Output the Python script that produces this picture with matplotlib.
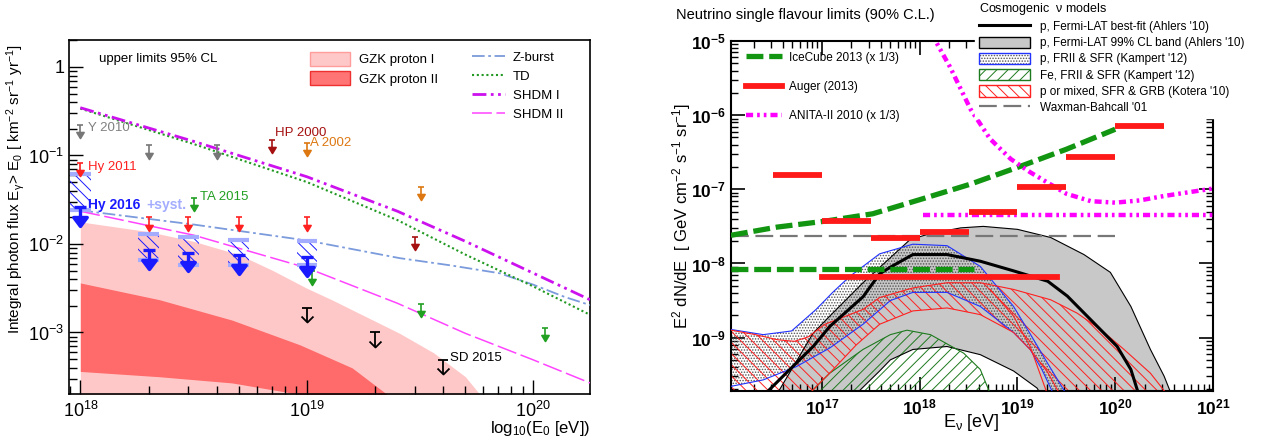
import numpy as np
import matplotlib.pyplot as plt
from matplotlib.patches import Patch
from matplotlib.lines import Line2D
from matplotlib.path import Path
from matplotlib.ticker import FixedLocator, NullFormatter, LogLocator

plt.rcParams['font.family'] = ['Liberation Sans', 'DejaVu Sans']
plt.rcParams['mathtext.fontset'] = 'custom'
plt.rcParams['mathtext.rm'] = 'Liberation Sans'
plt.rcParams['mathtext.it'] = 'Liberation Sans:italic'
plt.rcParams['mathtext.bf'] = 'Liberation Sans:bold'
plt.rcParams['mathtext.default'] = 'regular'
plt.rcParams['hatch.linewidth'] = 0.7

# =========================
# Left panel: photon limits (log10 values)
# =========================
gzk1_logE = [18.0, 18.3, 18.5, 18.7, 18.85, 19.0, 19.11, 19.26, 19.41, 19.56, 19.70, 19.78]
gzk1_hi = [-1.75, -1.86, -1.97, -2.12, -2.30, -2.50, -2.63, -2.82, -3.01, -3.23, -3.50, -3.75]
gzk2_logE = [18.0, 18.35, 18.67, 18.97, 19.2, 19.38]
gzk2_hi = [-2.44, -2.63, -2.86, -3.14, -3.40, -3.75]
gzk2_lo = [-3.44, -3.50, -3.57, -3.70, -3.80, -3.85]

zb_logE = [18.0, 18.5, 19.0, 19.41, 19.63, 19.85, 20.0, 20.14, 20.25]
zb_logF = [-1.62, -1.78, -1.96, -2.16, -2.24, -2.33, -2.46, -2.60, -2.69]
td_logE = [18.0, 18.5, 19.0, 19.4, 19.7, 20.0, 20.25]
td_logF = [-0.47, -0.87, -1.30, -1.73, -2.12, -2.48, -2.80]
shdm1_logE = [18.0, 18.5, 19.0, 19.4, 19.7, 20.0, 20.25]
shdm1_logF = [-0.46, -0.84, -1.24, -1.63, -1.97, -2.33, -2.63]
shdm2_logE = [18.0, 18.5, 19.0, 19.4, 19.7, 20.0, 20.25]
shdm2_logF = [-1.63, -1.90, -2.27, -2.67, -3.01, -3.31, -3.57]

y2010_E = [1e18, 2e18, 4e18]
y2010_F = [0.22, 0.13, 0.13]
hy2011_E = [1e18, 2e18, 3e18, 5e18, 1e19]
hy2011_F = [0.082, 0.020, 0.020, 0.020, 0.020]
hp2000_E = [7e18, 3e19]
hp2000_F = [0.15, 0.012]
a2002_E = [1e19, 3.2e19]
a2002_F = [0.14, 0.044]
ta2015_E = [3.16e18, 1.05e19, 3.2e19, 1.12e20]
ta2015_F = [0.033, 0.0049, 0.0021, 0.00112]
sd2015_E = [1e19, 2e19, 4e19]
sd2015_F = [0.0019, 0.0010, 0.00049]
hy2016_E = [1e18, 2e18, 3e18, 5e18, 1e19]
hy2016_F = [0.026, 0.0085, 0.0080, 0.0075, 0.0071]
hy2016_syst_hi = [0.062, 0.013, 0.012, 0.011, 0.0107]
hy2016_syst_lo = [0.024, 0.0066, 0.0058, 0.0058, 0.0058]

left_yticks = [1, 0.1, 0.01, 0.001]
left_ylabels = ['1', '$10^{-1}$', '$10^{-2}$', '$10^{-3}$']
left_xticks = [1e18, 1e19, 1e20]
left_xlabels = ['$10^{18}$', '$10^{19}$', '$10^{20}$']

# =========================
# Right panel: neutrino limits (log10 values)
# =========================
ice_logE = [16.07, 16.54, 17.03, 17.52, 18.0, 18.52, 19.03, 19.5, 20.0]
ice_logF = [-7.62, -7.51, -7.43, -7.33, -7.14, -6.93, -6.69, -6.46, -6.19]
ice_int_logE = [16.07, 18.56]
ice_int_logF = [-8.08, -8.08]

auger_lo = [16.5, 17.0, 17.5, 18.0, 18.5, 19.0, 19.5, 20.0]
auger_hi = [17.0, 17.5, 18.0, 18.5, 19.0, 19.5, 20.0, 20.5]
auger_logF = [-6.81, -7.43, -7.65, -7.57, -7.31, -6.97, -6.57, -6.14]
auger_int_logE = [17.0, 19.4]
auger_int_logF = [-8.18, -8.18]

anita_logE = [18.12, 18.31, 18.52, 18.72, 18.93, 19.13, 19.5, 19.75, 20.0, 20.25, 20.5, 21.0]
anita_logF = [-4.9, -5.35, -5.92, -6.32, -6.59, -6.77, -7.06, -7.16, -7.18, -7.15, -7.09, -6.99]
anita_int_logE = [18.03, 21.0]
anita_int_logF = [-7.34, -7.34]

wb_logE = [16.07, 20.0]
wb_logF = [-7.63, -7.63]

fermi_up_logE = [16.50, 16.91, 17.08, 17.42, 17.66, 17.90, 18.10, 18.42, 18.65, 19.0, 19.34, 19.68, 19.95, 20.16, 20.36, 20.50, 20.60]
fermi_up_logF = [-9.85, -8.94, -8.71, -8.26, -7.97, -7.68, -7.60, -7.52, -7.50, -7.54, -7.65, -7.88, -8.12, -8.58, -9.16, -9.52, -9.85]
fermi_lo_logE = [17.28, 17.59, 17.70, 17.93, 18.28, 18.62, 18.96, 19.2, 19.28]
fermi_lo_logF = [-9.85, -9.45, -9.30, -9.16, -9.12, -9.23, -9.45, -9.68, -9.85]
fermi_bf_logE = [16.35, 16.74, 16.91, 17.08, 17.42, 17.59, 17.70, 17.93, 18.28, 18.62, 18.96, 19.31, 19.51, 19.75, 20.02, 20.16, 20.26]
fermi_bf_logF = [-9.85, -9.34, -9.12, -8.85, -8.45, -8.14, -8.05, -7.88, -7.88, -7.97, -8.10, -8.24, -8.44, -8.76, -9.12, -9.43, -9.85]

kp_up_logE = [16.07, 16.40, 16.69, 16.94, 17.11, 17.28, 17.45, 17.59, 17.93, 18.28, 18.62, 18.96, 19.13, 19.31, 19.54]
kp_up_logF = [-8.89, -8.96, -8.91, -8.62, -8.39, -8.18, -8.01, -7.87, -7.74, -7.76, -8.04, -8.58, -8.95, -9.35, -9.85]
kp_lo_logE = [16.06, 16.40, 16.74, 17.08, 17.42, 17.70, 17.93, 18.28, 18.62, 18.96, 19.13, 19.25, 19.40]
kp_lo_logF = [-9.66, -9.57, -9.39, -9.14, -8.82, -8.50, -8.39, -8.39, -8.58, -8.93, -9.16, -9.43, -9.85]

fe_up_logE = [16.80, 17.08, 17.42, 17.70, 17.87, 18.11, 18.45, 18.62, 18.75]
fe_up_logF = [-9.85, -9.48, -9.16, -8.96, -8.90, -8.96, -9.21, -9.43, -9.85]

kot_up_logE = [16.07, 16.32, 16.55, 16.72, 16.86, 17.03, 17.42, 17.59, 17.93, 18.28, 18.62, 18.96, 19.34, 19.61, 19.85, 20.09, 20.36, 20.58]
kot_up_logF = [-8.90, -8.96, -9.03, -9.05, -8.99, -8.82, -8.62, -8.46, -8.33, -8.26, -8.26, -8.35, -8.49, -8.67, -8.89, -9.16, -9.48, -9.85]
kot_lo_logE = [16.80, 17.10, 17.35, 17.59, 17.93, 18.28, 18.62, 18.96, 19.13, 19.31, 19.47]
kot_lo_logF = [-9.85, -9.45, -9.10, -8.82, -8.64, -8.60, -8.69, -8.93, -9.16, -9.47, -9.85]
kot_mid_logE = [18.72, 18.96, 19.13, 19.33]
kot_mid_logF = [-8.35, -8.71, -9.12, -9.85]

right_xticks = [1e17, 1e18, 1e19, 1e20, 1e21]
right_xlabels = [r'$\mathbf{10^{17}}$', r'$\mathbf{10^{18}}$', r'$\mathbf{10^{19}}$',
                 r'$\mathbf{10^{20}}$', r'$\mathbf{10^{21}}$']
right_yticks = [1e-9, 1e-8, 1e-7, 1e-6, 1e-5]
right_ylabels = [r'$\mathbf{10^{-9}}$', r'$\mathbf{10^{-8}}$', r'$\mathbf{10^{-7}}$',
                 r'$\mathbf{10^{-6}}$', r'$\mathbf{10^{-5}}$']


def lg(v):
    return 10 ** np.asarray(v, float)


def head_path(w):
    return Path([(-w, 1.0), (0.0, 0.0), (w, 1.0), (-w, 1.0)],
                [Path.MOVETO, Path.LINETO, Path.LINETO, Path.CLOSEPOLY])


V_HEAD = Path([(-1.0, 1.0), (0.0, 0.0), (1.0, 1.0)],
              [Path.MOVETO, Path.LINETO, Path.LINETO])


def upper_limits(ax, E, F, color, length=0.15, lw=1.2, cap=5, head=8.6,
                 marker=None, open_head=False):
    E = np.asarray(E, float)
    F = np.asarray(F, float)
    tip = F * 10 ** (-length)
    ax.vlines(E, tip, F, color=color, lw=lw, zorder=6)
    ax.plot(E, F, ls='none', marker='_', ms=cap, mew=lw, color=color, zorder=6)
    if marker is None:
        marker = head_path(0.6)
    ax.plot(E, tip, ls='none', marker=marker, ms=head, mew=lw, color=color,
            mfc='none' if open_head else color, zorder=6)


fig = plt.figure(figsize=(12.78, 4.38), dpi=100)
axL = fig.add_axes([69 / 1278, 1 - 394 / 438, 521 / 1278, 354 / 438])
axR = fig.add_axes([731 / 1278, 1 - 391 / 438, 482 / 1278, 350 / 438])

# =========================
# Left panel
# =========================
axL.set_xscale('log')
axL.set_yscale('log')
axL.set_xlim(10 ** 17.95, 10 ** 20.25)
axL.set_ylim(10 ** -3.695, 10 ** 0.305)

axL.fill_between(lg(gzk1_logE), lg(gzk1_hi), 1e-6, color='#ffc8c8', lw=0, zorder=1)
axL.fill_between(lg(gzk2_logE), lg(gzk2_hi), lg(gzk2_lo), color='#ff6a6a', lw=0, zorder=1.1)

axL.plot(lg(zb_logE), lg(zb_logF), color='#7b9bdc', lw=1.3, dashes=[7, 2, 1.5, 2], zorder=3)
axL.plot(lg(td_logE), lg(td_logF), color='#229922', lw=1.5, ls=(0, (1, 1.3)), zorder=3)
axL.plot(lg(shdm1_logE), lg(shdm1_logF), color='#cc11ee', lw=2.0,
         dashes=[5, 1.6, 1, 1.6, 1, 1.6], zorder=3)
axL.plot(lg(shdm2_logE), lg(shdm2_logF), color='#ff44ff', lw=1.1, dashes=[13, 3], zorder=3)

# Hy 2016 systematic boxes
for E, lo, hi in zip(hy2016_E, hy2016_syst_lo, hy2016_syst_hi):
    x0, x1 = E * 10 ** -0.045, E * 10 ** 0.045
    axL.fill_between([x0, x1], [lo, lo], [hi, hi], facecolor='none', edgecolor='#1a1aff',
                     hatch='\\\\\\', lw=0, zorder=4)
    axL.hlines([lo, hi], x0, x1, color='#a3acff', lw=3, zorder=4.5)

upper_limits(axL, y2010_E, y2010_F, '#777777')
upper_limits(axL, hy2011_E, hy2011_F, '#ff2020')
upper_limits(axL, hp2000_E, hp2000_F, '#a51010')
upper_limits(axL, a2002_E, a2002_F, '#dd7711')
upper_limits(axL, ta2015_E, ta2015_F, '#22a022')
upper_limits(axL, sd2015_E, sd2015_F, 'black', length=0.16, lw=1.3, cap=7,
             head=8.6, marker=V_HEAD, open_head=True)
upper_limits(axL, hy2016_E, hy2016_F, '#1a1aff', length=0.21, lw=2.4, cap=9,
             head=13, marker=head_path(0.75))

axL.text(10 ** 18.035, 10 ** -0.69, 'Y 2010', color='#808080', fontsize=9.5, va='center')
axL.text(10 ** 18.035, 10 ** -1.13, 'Hy 2011', color='#ff2020', fontsize=9.5, va='center')
axL.text(10 ** 18.86, 10 ** -0.745, 'HP 2000', color='#a51010', fontsize=9.5, va='center')
axL.text(10 ** 19.015, 10 ** -0.86, 'A 2002', color='#dd7711', fontsize=9.5, va='center')
axL.text(10 ** 18.53, 10 ** -1.47, 'TA 2015', color='#22a022', fontsize=9.5, va='center')
axL.text(10 ** 19.63, 10 ** -3.29, 'SD 2015', color='black', fontsize=9.5, va='center')
axL.text(10 ** 18.035, 10 ** -1.56, 'Hy 2016', color='#1a1aff', fontsize=10,
         fontweight='bold', va='center')
axL.text(10 ** 18.29, 10 ** -1.56, '+syst.', color='#a3acff', fontsize=10,
         fontweight='bold', va='center')
axL.text(0.058, 0.962, 'upper limits 95% CL', transform=axL.transAxes, fontsize=9.5, va='top')

leg1 = axL.legend(handles=[Patch(fc='#ffc8c8', ec='#ff9c9c', lw=1),
                           Patch(fc='#ff7474', ec='#ee3030', lw=1)],
                  labels=['GZK proton I', 'GZK proton II'],
                  loc='upper left', bbox_to_anchor=(0.44, 1.0), frameon=False,
                  fontsize=9.5, handlelength=3.0, handleheight=1.3, labelspacing=0.35,
                  handletextpad=0.7)
axL.add_artist(leg1)
axL.legend(handles=[Line2D([], [], color='#7b9bdc', lw=1.3, dashes=[7, 2, 1.5, 2]),
                    Line2D([], [], color='#229922', lw=1.5, ls=(0, (1, 1.3))),
                    Line2D([], [], color='#cc11ee', lw=2.0, dashes=[5, 1.6, 1, 1.6, 1, 1.6]),
                    Line2D([], [], color='#ff44ff', lw=1.1, dashes=[13, 3])],
           labels=['Z-burst', 'TD', 'SHDM I', 'SHDM II'],
           loc='upper left', bbox_to_anchor=(0.75, 1.0), frameon=False,
           fontsize=9.5, handlelength=2.5, labelspacing=0.5, handletextpad=0.6)

axL.xaxis.set_major_locator(FixedLocator(left_xticks))
axL.set_xticklabels(left_xlabels)
axL.yaxis.set_major_locator(FixedLocator(left_yticks))
axL.set_yticklabels(left_ylabels)
for a in (axL.xaxis, axL.yaxis):
    a.set_minor_locator(LogLocator(base=10, subs=np.arange(2, 10)))
    a.set_minor_formatter(NullFormatter())
axL.tick_params(which='both', direction='in', top=False, right=False, labelsize=13)
axL.tick_params(which='major', length=10, width=1)
axL.tick_params(which='minor', length=6, width=1)
axL.tick_params(axis='x', pad=5)
for s in axL.spines.values():
    s.set_linewidth(1.2)
axL.set_ylabel(r'Integral photon flux E$_\gamma$> E$_0$ [ km$^{-2}$ sr$^{-1}$ yr$^{-1}$]',
               fontsize=11, loc='top')
axL.yaxis.set_label_coords(-0.08, 0.99)
axL.set_xlabel('log$_{10}$(E$_0$ [eV])', fontsize=12)
axL.xaxis.set_label_coords(1.0, -0.072)
axL.xaxis.label.set_ha('right')

# =========================
# Right panel
# =========================
axR.set_xscale('log')
axR.set_yscale('log')
axR.set_xlim(10 ** 16.07, 1e21)
axR.set_ylim(10 ** -9.72, 1e-5)

# Fermi-LAT 99% band
axR.fill(np.concatenate([lg(fermi_up_logE), lg(fermi_lo_logE)[::-1]]),
         np.concatenate([lg(fermi_up_logF), lg(fermi_lo_logF)[::-1]]),
         facecolor='#c8c8c8', edgecolor='none', zorder=1)
axR.plot(lg(fermi_up_logE), lg(fermi_up_logF), color='black', lw=0.8, zorder=3)
axR.plot(lg(fermi_lo_logE), lg(fermi_lo_logF), color='black', lw=0.8, zorder=3)

# p, FRII & SFR (Kampert)
axR.fill(np.concatenate([lg(kp_up_logE), lg(kp_lo_logE)[::-1]]),
         np.concatenate([lg(kp_up_logF), lg(kp_lo_logF)[::-1]]),
         facecolor='none', edgecolor='#555555', hatch='......', lw=0, zorder=2)
axR.plot(lg(kp_up_logE), lg(kp_up_logF), color='#2233ff', lw=0.8, zorder=3)
axR.plot(lg(kp_lo_logE), lg(kp_lo_logF), color='#2233ff', lw=0.8, zorder=3)

# Fe, FRII & SFR (Kampert)
axR.fill(np.concatenate([lg(fe_up_logE), [lg(fe_up_logE)[-1], lg(fe_up_logE)[0]]]),
         np.concatenate([lg(fe_up_logF), [1e-11, 1e-11]]),
         facecolor='none', edgecolor='#1e7a1e', hatch='///', lw=0, zorder=2.1)
axR.plot(lg(fe_up_logE), lg(fe_up_logF), color='#1e7a1e', lw=0.8, zorder=3)

# p or mixed, SFR & GRB (Kotera)
kx = np.concatenate([[lg(kot_up_logE)[0]], lg(kot_up_logE), lg(kot_lo_logE)[::-1]])
ky = np.concatenate([[1e-11], lg(kot_up_logF), lg(kot_lo_logF)[::-1]])
axR.fill(np.append(kx, kx[0]), np.append(ky, 1e-11), facecolor='none', edgecolor='#ff2020',
         hatch='\\\\\\', lw=0, zorder=2.2)
axR.plot(lg(kot_up_logE), lg(kot_up_logF), color='#ff2020', lw=0.8, zorder=3)
axR.plot(lg(kot_lo_logE), lg(kot_lo_logF), color='#ff2020', lw=0.8, zorder=3)
axR.plot(lg(kot_mid_logE), lg(kot_mid_logF), color='#ff2020', lw=0.8, zorder=3)

# Fermi best fit
axR.plot(lg(fermi_bf_logE), lg(fermi_bf_logF), color='black', lw=2.2, zorder=3.5)

# limits
axR.plot(lg(wb_logE), lg(wb_logF), color='#777777', lw=1.6, dashes=[8, 3], zorder=4)
ice_kw = dict(color='#129612', lw=3.8, dashes=[3.2, 1.1])
axR.plot(lg(ice_logE), lg(ice_logF), zorder=5, **ice_kw)
axR.plot(lg(ice_int_logE), lg(ice_int_logF), zorder=5, **ice_kw)
anita_kw = dict(color='#ff00ff', lw=3.2, dashes=[1.6, 0.9, 0.6, 0.9, 0.6, 0.9])
axR.plot(lg(anita_logE), lg(anita_logF), zorder=5, **anita_kw)
axR.plot(lg(anita_int_logE), lg(anita_int_logF), zorder=5, **anita_kw)
axR.hlines(lg(auger_logF), lg(auger_lo), lg(auger_hi), color='#ff1a1a', lw=4.2, zorder=5.5)
axR.plot(lg(auger_int_logE), lg(auger_int_logF), color='#ff1a1a', lw=4.2, zorder=5.5)

axR.xaxis.set_major_locator(FixedLocator(right_xticks))
axR.set_xticklabels(right_xlabels)
axR.yaxis.set_major_locator(FixedLocator(right_yticks))
axR.set_yticklabels(right_ylabels)
for a in (axR.xaxis, axR.yaxis):
    a.set_minor_locator(LogLocator(base=10, subs=np.arange(2, 10)))
    a.set_minor_formatter(NullFormatter())
axR.tick_params(which='both', direction='in', top=True, right=True, labelsize=12.5)
axR.tick_params(which='major', length=10, width=1.2)
axR.tick_params(which='minor', length=5, width=1)
axR.tick_params(axis='x', pad=5)
for s in axR.spines.values():
    s.set_linewidth(1.5)
axR.set_ylabel('E$^{2}$ dN/dE  [ GeV cm$^{-2}$ s$^{-1}$ sr$^{-1}$]', fontsize=12)
axR.yaxis.set_label_coords(-0.079, 0.5)
axR.set_xlabel(r'E$_\nu$ [eV]', fontsize=13)
axR.xaxis.set_label_coords(0.498, -0.06)

fig.text(676 / 1278, 1 - 15 / 438, 'Neutrino single flavour limits (90% C.L.)',
         fontsize=10.5, va='center')

leg_lim = axR.legend(handles=[Line2D([], [], **ice_kw),
                              Line2D([], [], color='#ff1a1a', lw=4.2),
                              Line2D([], [], **anita_kw)],
                     labels=['IceCube 2013 (x 1/3)', 'Auger (2013)', 'ANITA-II 2010 (x 1/3)'],
                     loc='upper left', bbox_to_anchor=(0.01, 1.0), frameon=False,
                     fontsize=8.5, handlelength=3.0, labelspacing=1.45, handletextpad=0.6)
axR.add_artist(leg_lim)

cos_handles = [
    Line2D([], [], color='black', lw=2.2),
    Patch(fc='#c8c8c8', ec='black', lw=1),
    (Patch(fc='white', ec='#555555', hatch='......', lw=0), Patch(fc='none', ec='#2233ff', lw=1)),
    (Patch(fc='white', ec='#1e7a1e', hatch='///', lw=0), Patch(fc='none', ec='#1e7a1e', lw=1)),
    (Patch(fc='white', ec='#ff2020', hatch='\\\\\\', lw=0), Patch(fc='none', ec='#ff2020', lw=1)),
    Line2D([], [], color='#777777', lw=1.6, dashes=[8, 3]),
]
cos_labels = ["p, Fermi-LAT best-fit (Ahlers '10)",
              "p, Fermi-LAT 99% CL band (Ahlers '10)",
              "p, FRII & SFR (Kampert '12)",
              "Fe, FRII & SFR (Kampert '12)",
              "p or mixed, SFR & GRB (Kotera '10)",
              "Waxman-Bahcall '01"]
leg = axR.legend(handles=cos_handles, labels=cos_labels, title=r'Cosmogenic  $\nu$ models',
                 title_fontsize=9, alignment='left', loc='upper left',
                 bbox_to_anchor=(0.495, 1.142), fontsize=8.5, handlelength=4.3,
                 handleheight=1.1, labelspacing=0.3, handletextpad=0.9, borderpad=0.3,
                 fancybox=False, framealpha=1, facecolor='white', edgecolor='white')
leg.set_zorder(10)

fig.savefig('out.png', dpi=100)
